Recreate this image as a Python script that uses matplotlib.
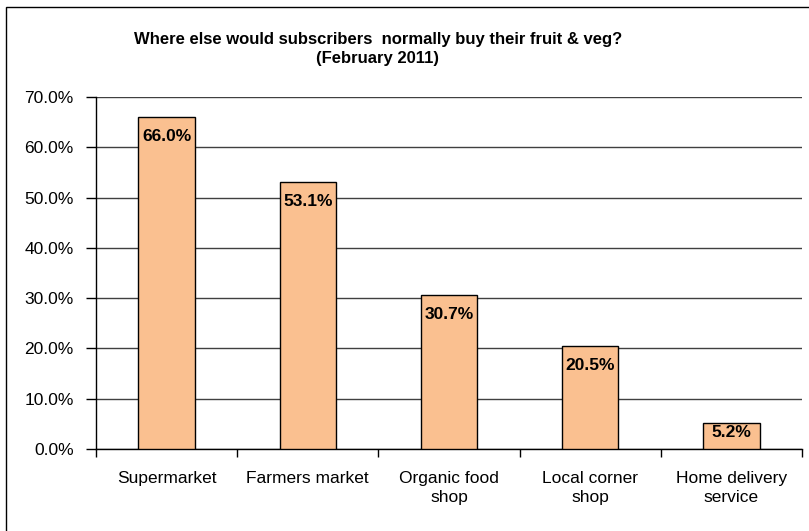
import numpy as np
import matplotlib.pyplot as plt
from matplotlib.patches import Rectangle
from matplotlib.ticker import FixedLocator

plt.rcParams['font.family'] = ['Liberation Sans', 'DejaVu Sans']

categories = ['Supermarket', 'Farmers market', 'Organic food\nshop',
              'Local corner\nshop', 'Home delivery\nservice']
values = [66.0, 53.1, 30.7, 20.5, 5.2]
yticks = [0, 10, 20, 30, 40, 50, 60, 70]
title = 'Where else would subscribers  normally buy their fruit & veg?\n(February 2011)'

fig = plt.figure(figsize=(8.09, 5.31), dpi=100)
ax = fig.add_axes([96 / 809, 82 / 531, 706 / 809, 352 / 531])

# outer chart frame (only left/top edges visible in the picture)
fig.patches.append(Rectangle((6 / 809, -0.2), 1.5, 1.2 - 7 / 531,
                             transform=fig.transFigure, fill=False,
                             edgecolor='black', lw=1.0))

x = np.arange(len(values))
ax.bar(x, values, width=0.4, color='#FAC090', edgecolor='black', lw=1.0, zorder=3)

for xi, v in zip(x, values):
    if v > 10:
        y = v - 3.9
    else:
        y = v - 1.9
    ax.text(xi, y, '%.1f%%' % v, ha='center', va='center',
            fontsize=12.5, fontweight='bold', zorder=4)

ax.set_xlim(-0.5, len(values) - 0.5)
ax.set_ylim(0, 70)
ax.set_yticks(yticks)
ax.set_yticklabels(['%.1f%%' % t for t in yticks], fontsize=12.5)
ax.yaxis.grid(True, color='#404040', lw=1.0, zorder=0)
ax.set_axisbelow(True)

ax.set_xticks(x)
ax.set_xticklabels(categories, fontsize=12.5, linespacing=1.35)
ax.xaxis.set_minor_locator(FixedLocator(np.arange(len(values) + 1) - 0.5))
ax.tick_params(axis='x', which='major', length=0, pad=16)
ax.tick_params(axis='x', which='minor', length=6, width=1, color='black')
ax.tick_params(axis='y', length=7, width=1, pad=9)

for s in ['top', 'right']:
    ax.spines[s].set_visible(False)
for s in ['left', 'bottom']:
    ax.spines[s].set_color('black')
    ax.spines[s].set_linewidth(1.0)

fig.text(378 / 809, 1 - 49 / 531, title, ha='center', va='center',
         fontsize=12, fontweight='bold', linespacing=1.3)

fig.savefig('out.png', dpi=100)
